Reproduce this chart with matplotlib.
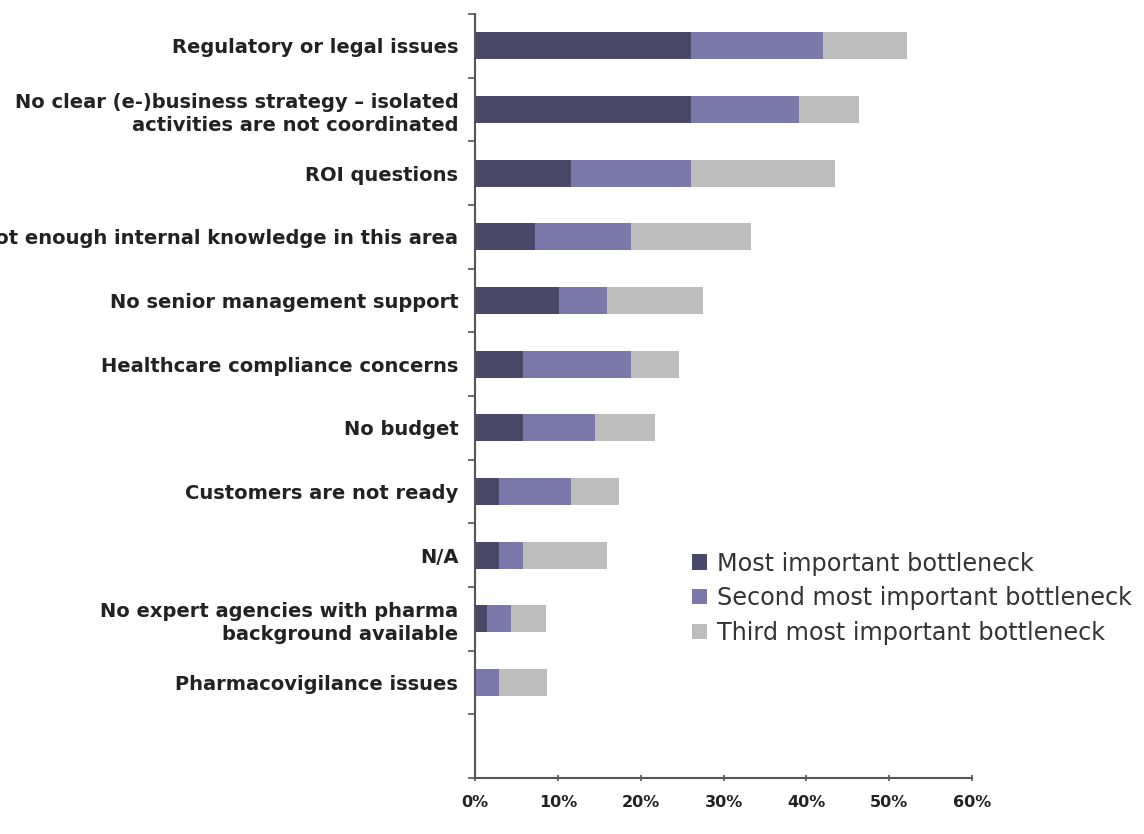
import numpy as np
import matplotlib
matplotlib.use("Agg")
import matplotlib.pyplot as plt
from matplotlib.ticker import FuncFormatter

# Chart data (percent of respondents)
categories = [
    "Regulatory or legal issues",
    "No clear (e-)business strategy \u2013 isolated\nactivities are not coordinated",
    "ROI questions",
    "Not enough internal knowledge in this area",
    "No senior management support",
    "Healthcare compliance concerns",
    "No budget",
    "Customers are not ready",
    "N/A",
    "No expert agencies with pharma\nbackground available",
    "Pharmacovigilance issues",
]
most_important = [26.1, 26.1, 11.6, 7.2, 10.1, 5.8, 5.8, 2.9, 2.9, 1.4, 0.0]
second_important = [15.9, 13.0, 14.5, 11.6, 5.8, 13.0, 8.7, 8.7, 2.9, 2.9, 2.9]
third_important = [10.2, 7.3, 17.4, 14.5, 11.6, 5.8, 7.2, 5.8, 10.1, 4.3, 5.8]
series_names = ["Most important bottleneck",
                "Second most important bottleneck",
                "Third most important bottleneck"]
colors = ["#4a4868", "#7b78aa", "#bdbdbd"]

fig = plt.figure(figsize=(11.44, 8.34), dpi=100)
ax = fig.add_axes([0.4152, 0.0671, 0.4345, 0.9161])

y = np.arange(len(categories))
left = np.zeros(len(categories))
for vals, name, col in zip([most_important, second_important, third_important],
                           series_names, colors):
    ax.barh(y, vals, left=left, height=0.42, color=col, label=name)
    left += np.array(vals)

# one empty slot at the bottom
ax.set_ylim(len(categories) + 0.5, -0.5)
ax.set_xlim(0, 60)

ax.set_yticks(y)
ax.set_yticklabels(categories, fontsize=14, fontweight="bold",
                   color="#222222", linespacing=1.3)
ax.tick_params(axis="y", which="major", length=0, pad=12)
ax.set_yticks(np.arange(-0.5, len(categories) + 1, 1), minor=True)
ax.tick_params(axis="y", which="minor", length=5, width=1.2,
               direction="out", color="#555555")

ax.set_xticks(np.arange(0, 61, 10))
ax.xaxis.set_major_formatter(FuncFormatter(lambda v, p: f"{int(v)}%"))
ax.tick_params(axis="x", length=5, width=1.2, direction="inout",
               color="#555555", labelsize=11.5, pad=10)
for lbl in ax.get_xticklabels():
    lbl.set_fontweight("bold")
    lbl.set_color("#222222")

for s in ["top", "right"]:
    ax.spines[s].set_visible(False)
for s in ["left", "bottom"]:
    ax.spines[s].set_color("#555555")
    ax.spines[s].set_linewidth(1.5)

ax.legend(loc="upper left", bbox_to_anchor=(0.437, 0.2965), frameon=False,
          fontsize=17.2, handlelength=0.6, handleheight=0.6, handletextpad=0.45,
          labelspacing=0.45, labelcolor="#333333", borderaxespad=0,
          borderpad=0)

fig.savefig("out.png", dpi=100)
